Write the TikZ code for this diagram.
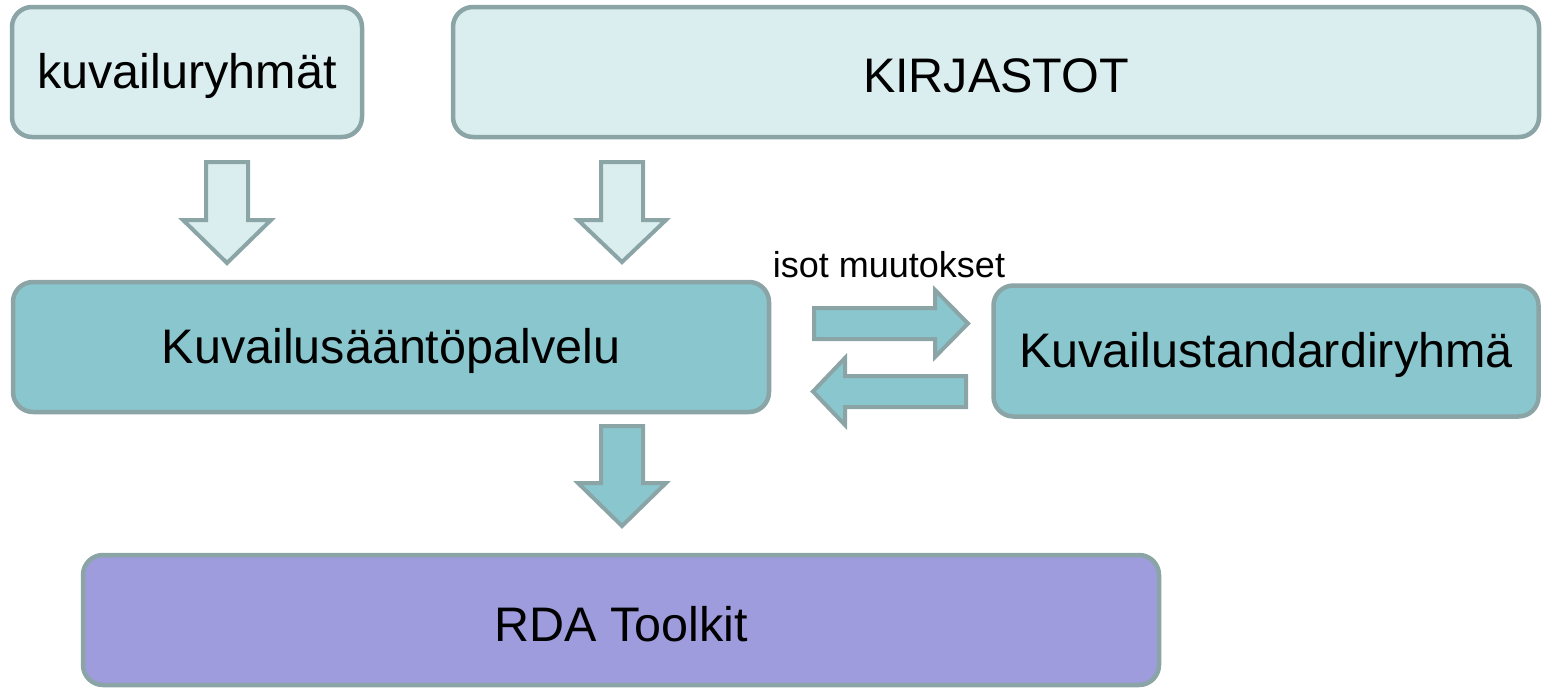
\documentclass[tikz,border=0pt]{standalone}
\usepackage{fontspec}
\setmainfont{Liberation Sans}
\definecolor{edge}{HTML}{8BA5A7}
\definecolor{lightfill}{HTML}{DAEDEF}
\definecolor{midfill}{HTML}{8AC6CE}
\definecolor{purplefill}{HTML}{9E9CDC}
\tikzset{
  box/.style={draw=edge, line width=4.5pt, rounded corners=20pt, inner sep=0pt,
    font=\fontsize{48.5}{56}\selectfont, text=black},
  boxtext/.style={font=\fontsize{48.5}{56}\selectfont, inner sep=0pt, yshift=-4pt},
  blockarrow/.style={draw=edge, line width=4pt, line join=miter},
}
\newcommand\downblock[5]{% cx, top, headstart, tip, fill
  \filldraw[blockarrow, fill=#5] (#1-21,#2) -- (#1+21,#2) -- (#1+21,#3) -- (#1+44,#3)
    -- (#1,#4) -- (#1-44,#3) -- (#1-21,#3) -- cycle;}
\begin{document}
\begin{tikzpicture}[x=1pt,y=-1pt]
\useasboundingbox (0,0) rectangle (1548,688);
\node[box, fill=lightfill, minimum width=350, minimum height=130] (kuv) at (187,72) {};
\node[boxtext] (kuvt) at (kuv.center) {kuvailuryhmät};
\node[box, fill=lightfill, minimum width=1086, minimum height=130] (kir) at (996,72) {};
\node[boxtext] (kirt) at (kir.center) {KIRJASTOT};
\node[box, fill=midfill, minimum width=756, minimum height=130] (ksp) at (391,347) {};
\node[boxtext] (kspt) at (ksp.center) {Kuvailusääntöpalvelu};
\node[box, fill=midfill, minimum width=545, minimum height=131] (ksr) at (1266,351) {};
\node[boxtext] (ksrt) at (ksr.center) {Kuvailustandardiryhmä};
\node[box, fill=purplefill, minimum width=1076, minimum height=130] (rda) at (621,620) {};
\node[boxtext] (rdat) at (rda.center) {RDA Toolkit};
\node[anchor=base, font=\fontsize{36}{42}\selectfont, inner sep=0pt] (lbl) at (889,277) {isot muutokset};
\downblock{227}{162}{220}{263}{lightfill}
\downblock{622}{162}{220}{262}{lightfill}
\downblock{622}{426}{483}{526}{midfill}
\filldraw[blockarrow, fill=midfill] (814,308) -- (935,308) -- (935,290) -- (968,323.5)
  -- (935,357) -- (935,339) -- (814,339) -- cycle;
\filldraw[blockarrow, fill=midfill] (966,376) -- (845,376) -- (845,358) -- (813,391.5)
  -- (845,425) -- (845,407) -- (966,407) -- cycle;
\end{tikzpicture}
\end{document}
